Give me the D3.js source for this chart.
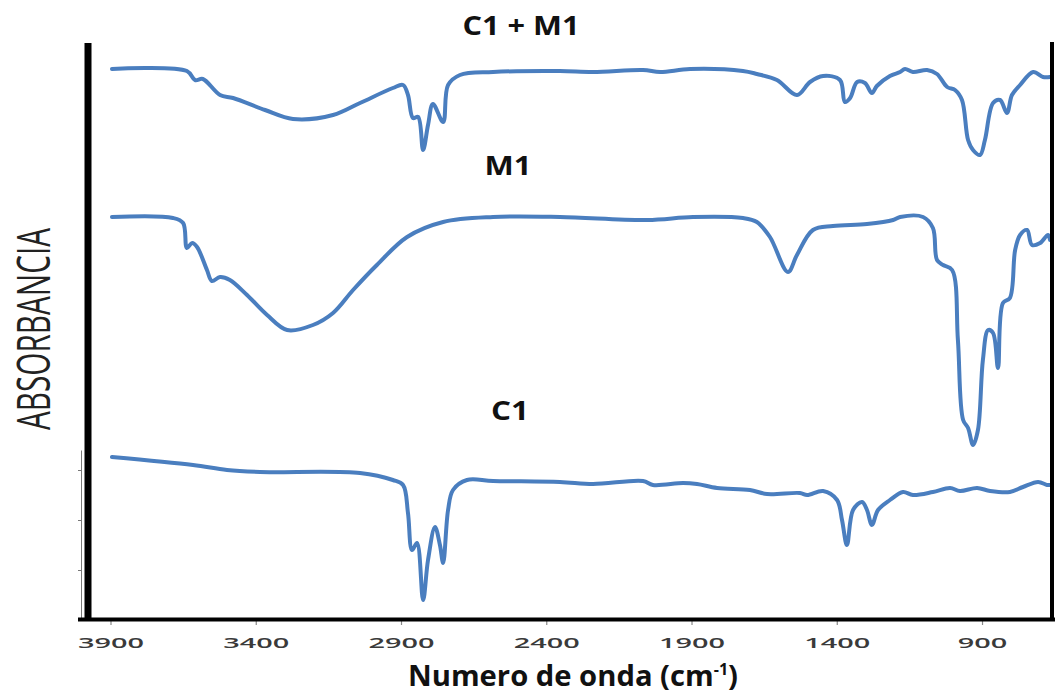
<!DOCTYPE html>
<html lang="es">
<head>
<meta charset="utf-8">
<title>Espectros FTIR</title>
<script src="https://cdnjs.cloudflare.com/ajax/libs/d3/7.8.5/d3.min.js"></script>
<style>
  body { margin: 0; background: #fff; }
  svg { display: block; }
</style>
</head>
<body>
<div id="chart"></div>
<script>
// numero de onda (cm-1) y absorbancia (u.a., trazas ya desplazadas)
var wnC1M1 = [3895,3637,3609,3582,3523,3478,3368,3272,3134,3041,2928,2893,2876,2859,2841,2824,2807,2790,2755,2738,2697,2583,2353,2239,2067,2008,1905,1723,1675,1606,1537,1492,1447,1389,1372,1354,1330,1303,1279,1262,1217,1182,1165,1138,1089,1055,1020,993,969,948,931,907,890,862,838,814,797,769,724,690,666];
var absC1M1 = [5.51,5.49,5.40,5.41,5.25,5.22,5.10,5.01,5.05,5.17,5.32,5.35,5.25,5.02,5.03,4.70,4.95,5.16,4.98,5.35,5.45,5.48,5.49,5.48,5.50,5.48,5.51,5.49,5.46,5.40,5.25,5.38,5.44,5.40,5.18,5.22,5.38,5.37,5.27,5.34,5.44,5.48,5.51,5.48,5.50,5.46,5.33,5.30,5.20,4.80,4.70,4.65,4.80,5.17,5.20,5.07,5.25,5.35,5.48,5.43,5.43];

var wnM1 = [3895,3685,3650,3637,3619,3602,3568,3551,3523,3489,3430,3361,3292,3203,3134,3065,2983,2879,2755,2583,2353,2053,1895,1723,1675,1630,1568,1537,1482,1413,1296,1206,1182,1103,1069,1055,1034,1003,983,965,948,931,914,897,879,862,845,828,804,786,769,745,728,700,673,666];
var absM1 = [4.03,4.02,3.97,3.72,3.77,3.73,3.50,3.39,3.43,3.40,3.25,3.05,2.90,2.95,3.07,3.30,3.55,3.83,3.98,4.03,4.03,4.00,4.03,4.02,3.98,3.83,3.48,3.65,3.90,3.94,3.96,4.00,4.03,4.03,3.92,3.60,3.55,3.50,2.80,2.00,1.92,1.75,1.90,2.60,2.90,2.87,2.52,3.17,3.22,3.70,3.85,3.90,3.75,3.77,3.85,3.80];

var wnC1 = [3895,3616,3499,3385,3041,2928,2893,2876,2862,2845,2824,2807,2783,2766,2755,2738,2721,2673,2583,2353,2239,2067,2033,1929,1881,1812,1699,1640,1527,1502,1447,1399,1382,1365,1344,1313,1296,1279,1258,1217,1172,1138,1069,1010,976,917,872,804,759,707,676,666];
var absC1 = [1.63,1.55,1.50,1.48,1.47,1.40,1.35,1.07,0.70,0.77,0.20,0.60,0.93,0.75,0.57,1.10,1.30,1.40,1.39,1.38,1.36,1.39,1.35,1.37,1.36,1.32,1.30,1.26,1.27,1.25,1.29,1.20,1.00,0.75,1.10,1.18,1.10,0.95,1.10,1.20,1.28,1.25,1.28,1.32,1.29,1.32,1.29,1.28,1.33,1.38,1.35,1.35];

var xTicks = [3900,3400,2900,2400,1900,1400,900];
var leftTicks = [0.5,1.0,1.5];

var series = [
  {name: "C1 + M1", wn: wnC1M1, abs: absC1M1, lx: 521, ly: 35, lw: 117},
  {name: "M1", wn: wnM1, abs: absM1, lx: 508, ly: 175, lw: 47},
  {name: "C1", wn: wnC1, abs: absC1, lx: 510, ly: 420, lw: 38}
];

var W = 1055, H = 698;
var svg = d3.select("#chart").append("svg")
  .attr("width", W).attr("height", H);

var x = d3.scaleLinear().domain([3900, 666]).range([110.5, 1050]);
var y = d3.scaleLinear().domain([0, 5.78]).range([620, 42]);

var blue = "#4a7ebf";

// traces
var line = d3.line()
  .x(function(d) { return x(d[0]); })
  .y(function(d) { return y(d[1]); })
  .curve(d3.curveCatmullRom.alpha(0.5));

series.forEach(function(s) {
  var pts = s.wn.map(function(w, i) { return [w, s.abs[i]]; });
  svg.append("path")
    .datum(pts)
    .attr("d", line)
    .attr("fill", "none")
    .attr("stroke", blue)
    .attr("stroke-width", 4)
    .attr("stroke-linejoin", "round")
    .attr("stroke-linecap", "round");

  svg.append("text")
    .attr("x", s.lx).attr("y", s.ly)
    .attr("text-anchor", "middle")
    .attr("textLength", s.lw)
    .attr("lengthAdjust", "spacingAndGlyphs")
    .style("font-family", "'Open Sans', sans-serif")
    .style("font-weight", 700)
    .style("font-size", "26px")
    .style("fill", "#111")
    .text(s.name);
});

// leftover thin axis of the lower plot
var yInset = d3.scaleLinear().domain([0, 1.7]).range([y(0), y(1.7)]);
var inset = svg.append("g")
  .attr("transform", "translate(81,0)")
  .call(d3.axisLeft(yInset).tickValues(leftTicks).tickSize(3).tickSizeOuter(0).tickFormat(""));
inset.selectAll("path, line").attr("stroke", "#777").attr("stroke-width", 1);

// bottom axis
var xAxis = svg.append("g")
  .attr("transform", "translate(0,620)")
  .call(d3.axisBottom(x).tickValues(xTicks).tickSize(5).tickSizeOuter(0)
    .tickPadding(12).tickFormat(d3.format("d")));
xAxis.select(".domain").remove();
xAxis.selectAll(".tick line").attr("stroke", "#888").attr("stroke-width", 1.2);
xAxis.selectAll(".tick text")
  .attr("textLength", function(d) { return String(d).length * 16.5; })
  .attr("lengthAdjust", "spacingAndGlyphs")
  .style("font-family", "'Open Sans', sans-serif")
  .style("font-weight", 600)
  .style("font-size", "15px")
  .style("fill", "#3a3a3a");

// frame lines
svg.append("line").attr("x1", 78).attr("x2", 1055).attr("y1", 619.5).attr("y2", 619.5)
  .attr("stroke", "#000").attr("stroke-width", 4);
svg.append("line").attr("x1", 88).attr("x2", 88).attr("y1", 43).attr("y2", 621)
  .attr("stroke", "#000").attr("stroke-width", 7);
svg.append("line").attr("x1", 1052).attr("x2", 1052).attr("y1", 42).attr("y2", 621)
  .attr("stroke", "#000").attr("stroke-width", 4);

// axis titles
svg.append("text")
  .attr("x", 573).attr("y", 686)
  .attr("text-anchor", "middle")
  .attr("textLength", 330)
  .attr("lengthAdjust", "spacingAndGlyphs")
  .style("font-family", "'Open Sans', sans-serif")
  .style("font-weight", 700)
  .style("font-size", "29px")
  .style("fill", "#111")
  .text("Numero de onda (cm")
  .append("tspan").attr("baseline-shift", "super").style("font-size", "16px").text("-1")
  .select(function() { return this.parentNode; })
  .append("tspan").text(")");

svg.append("text")
  .attr("transform", "translate(50,329) rotate(-90)")
  .attr("text-anchor", "middle")
  .attr("textLength", 202)
  .attr("lengthAdjust", "spacingAndGlyphs")
  .style("font-family", "'Open Sans', sans-serif")
  .style("font-weight", 400)
  .style("font-size", "46px")
  .style("fill", "#222")
  .text("ABSORBANCIA");
</script>
</body>
</html>
